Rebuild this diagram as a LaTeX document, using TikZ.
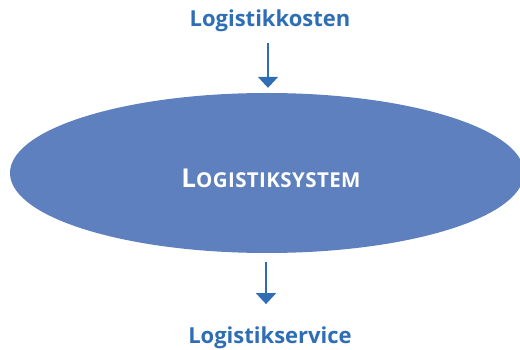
\documentclass[tikz,border=0pt]{standalone}
\usepackage{fontspec}
\setmainfont{Open Sans}
\usetikzlibrary{arrows.meta,shapes.geometric}
\definecolor{lblue}{HTML}{2F6EB5}
\definecolor{efill}{HTML}{5E80BF}
\tikzset{
  lbl/.style={text=lblue, font=\bfseries\fontsize{22}{22}\selectfont, inner sep=0pt, anchor=base},
  arr/.style={draw=lblue, line width=2pt, -{Triangle[width=20pt,length=11pt]}},
  sysbox/.style={ellipse, fill=efill, draw=none, minimum width=514pt, minimum height=160pt, inner sep=0pt}
}
\begin{document}
\begin{tikzpicture}[x=1pt,y=-1pt]
\useasboundingbox (0,0) rectangle (520,350);
\begin{scope}
\clip (0,0) rectangle (520,350);
\node[sysbox] (sys) at (267,173) {};
\end{scope}
\node[text=white, inner sep=0pt, anchor=base, font=\bfseries] (systxt) at (271,188) {{\fontsize{26}{26}\selectfont L}{\fontsize{20.5}{20.5}\selectfont\addfontfeature{LetterSpace=2}OGISTIKSYSTEM}};
\node[lbl] (top) at (270,27) {Logistikkosten};
\node[lbl] (bot) at (270,343) {Logistikservice};
\draw[arr, shorten <=11pt, shorten >=5pt] ([xshift=-2pt]top.south) -- ([xshift=1pt]sys.north);
\draw[arr, shorten <=9pt, shorten >=22pt] ([xshift=-1pt]sys.south) -- ([xshift=-4pt]bot.north);
\end{tikzpicture}
\end{document}
